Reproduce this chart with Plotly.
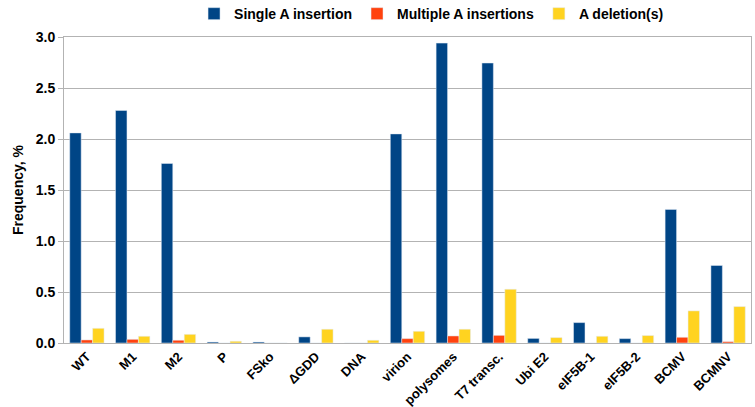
import plotly.graph_objects as go

categories = ["WT", "M1", "M2", "P", "FSko", "ΔGDD", "DNA", "virion", "polysomes",
              "T7 transc.", "Ubi E2", "eIF5B-1", "eIF5B-2", "BCMV", "BCMNV"]
single_ins = [2.06, 2.28, 1.76, 0.01, 0.01, 0.06, 0.0, 2.05, 2.94, 2.745, 0.045, 0.20, 0.043, 1.31, 0.76]
multi_ins = [0.03, 0.036, 0.027, 0.0, 0.0, 0.0, 0.0, 0.043, 0.069, 0.075, 0.0, 0.0, 0.0, 0.056, 0.013]
deletions = [0.144, 0.066, 0.085, 0.017, 0.0, 0.135, 0.027, 0.115, 0.135, 0.527, 0.053, 0.066, 0.073, 0.315, 0.357]
y_ticks = [0.0, 0.5, 1.0, 1.5, 2.0, 2.5, 3.0]

FONT = "Liberation Sans, Arial, sans-serif"
fig = go.Figure()
fig.add_bar(x=categories, y=single_ins, name="<b>Single A insertion</b>", marker_color="#004586")
fig.add_bar(x=categories, y=multi_ins, name="<b>Multiple A insertions</b>", marker_color="#ff420e")
fig.add_bar(x=categories, y=deletions, name="<b>A deletion(s)</b>", marker_color="#ffd320")

fig.update_layout(
    width=755, height=407,
    margin=dict(l=64, r=4, t=37, b=64, autoexpand=False),
    paper_bgcolor="white", plot_bgcolor="white",
    barmode="group", bargap=0.25, bargroupgap=0,
    font=dict(family=FONT, size=13, color="black"),
    legend=dict(orientation="h", x=0.535, xanchor="center", y=1.075, yanchor="middle",
                font=dict(size=14), itemwidth=30, traceorder="normal",
                bgcolor="rgba(0,0,0,0)"),
    showlegend=True,
    annotations=[dict(text="<b>Frequency, %</b>", textangle=-90, xref="paper", yref="paper",
                      x=-0.0669, y=0.5, xanchor="center", yanchor="middle", showarrow=False,
                      font=dict(family=FONT, size=14, color="black"))],
)
fig.update_xaxes(
    automargin=False,
    tickangle=-45, tickfont=dict(family=FONT, size=13, color="black"),
    showline=True, linecolor="#b3b3b3", linewidth=1, mirror=True,
    showgrid=False, ticks="", ticklen=0,
    tickvals=categories, ticktext=[f"<b>{c}</b>" for c in categories],
)
fig.update_yaxes(
    automargin=False,
    range=[0, 3.0], tickvals=y_ticks, ticktext=[f"<b>{v:.1f}</b>" for v in y_ticks],
    tickfont=dict(family=FONT, size=14, color="black"),
    showgrid=True, gridcolor="#b3b3b3", gridwidth=1,
    showline=True, linecolor="#b3b3b3", linewidth=1, mirror=True,
    ticks="outside", ticklen=5, tickcolor="#b3b3b3",
    zeroline=False,
)
fig.write_html("out.html", config={"displayModeBar": False},
               post_script="document.body.style.margin='0';document.body.style.overflow='hidden';")
